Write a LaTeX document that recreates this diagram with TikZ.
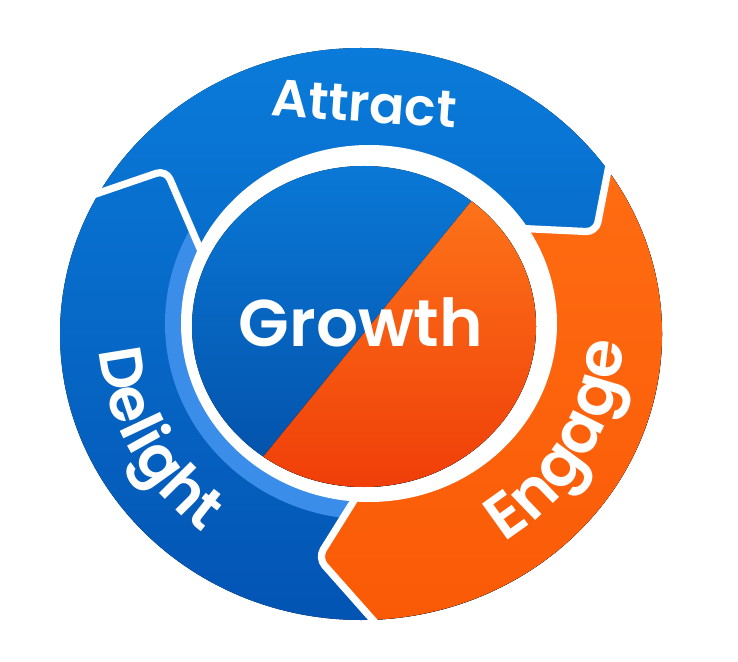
\documentclass[tikz,border=0pt]{standalone}
\usepackage{fontspec}
\setmainfont{Poppins}[BoldFont={Poppins SemiBold}]
\usetikzlibrary{decorations.text}
\definecolor{ringtop}{HTML}{0A7BDA}
\definecolor{ringbot}{HTML}{0354B3}
\definecolor{stripblue}{HTML}{3A8DE8}
\definecolor{engtop}{HTML}{FF6C12}
\definecolor{engbot}{HTML}{FA5A06}
\definecolor{diskbtop}{HTML}{0A7AD8}
\definecolor{diskbbot}{HTML}{034EA6}
\definecolor{diskotop}{HTML}{FF7C1C}
\definecolor{diskobot}{HTML}{EF3C08}
\newcommand\bandfont{\color{white}\bfseries\fontsize{30}{30}\selectfont}
\newcommand\engfont{\color{white}\bfseries\fontsize{31.5}{31.5}\selectfont}
\tikzset{
  sep/.style={draw=white, line width=3.6pt, line join=round, line cap=round, rounded corners=5pt},
  biglabel/.style={text=white, font=\bfseries\fontsize{33}{33}\selectfont, inner sep=0pt},
  toplabel/.style={text=white, font=\bfseries\fontsize{26}{26}\selectfont, inner sep=0pt}
}
\begin{document}
\begin{tikzpicture}[x=0.5pt,y=0.5pt]
\useasboundingbox (0,0) rectangle (738,-662);
\coordinate (C) at (361,-334);
\coordinate (W) at (369,-323.5);
\coordinate (D) at (364,-326.5);
% outer blue band
\fill[top color=ringtop, bottom color=ringbot] (C) ellipse[x radius=150.5pt, y radius=143pt];
% light inner strip of Delight
\begin{scope}
\clip (369,-323) -- (200,-250) -- (166,-170) -- (20,-170) -- (20,-650) -- (318,-558) -- (352,-503) -- cycle;
\fill[stripblue] (W) ellipse[x radius=102pt, y radius=98pt];
\end{scope}
% orange Engage band
\fill[top color=engtop, bottom color=engbot]
  ([shift={(361,-334)}]34.6:301 and 286)
  arc[start angle=34.6, end angle=-87.7, x radius=150.5pt, y radius=143pt]
  -- (318,-558) -- (352,-503) -- (369,-323) -- (524,-229) -- (596,-232) -- cycle;
% separators
\draw[sep] (610,-160) -- (596,-232) -- (512,-228);
\draw[sep] (358,-494) -- (318,-558) -- (380,-628);
\draw[sep] (84,-198) -- (166,-170) -- (204,-258);
% white ring
\fill[white] (W) ellipse[x radius=94pt, y radius=89.25pt];
% central disk
\begin{scope}
\clip (D) ellipse[x radius=86pt, y radius=80.25pt];
\fill[top color=diskbtop, bottom color=diskbbot] (180,-150) rectangle (550,-500);
\fill[top color=diskotop, bottom color=diskobot] (513,-150) -- (550,-150) -- (550,-500) -- (228,-500) -- cycle;
\end{scope}
% labels
\node[biglabel] (growth) at (361,-322) {Growth};
\node[toplabel, rotate=-4] (attract) at (364,-104) {Attract};
\path[decorate, decoration={text along path, text align=center, text={|\bandfont|Delight}}]
  ([shift={(361,-334)}]164:262 and 249) arc[start angle=164, end angle=252, x radius=131pt, y radius=124.5pt];
\path[decorate, decoration={text along path, text align=center, text={|\engfont|Engage}}]
  ([shift={(361,-334)}]-73:262 and 249) arc[start angle=-73, end angle=15, x radius=131pt, y radius=124.5pt];
\end{tikzpicture}
\end{document}
